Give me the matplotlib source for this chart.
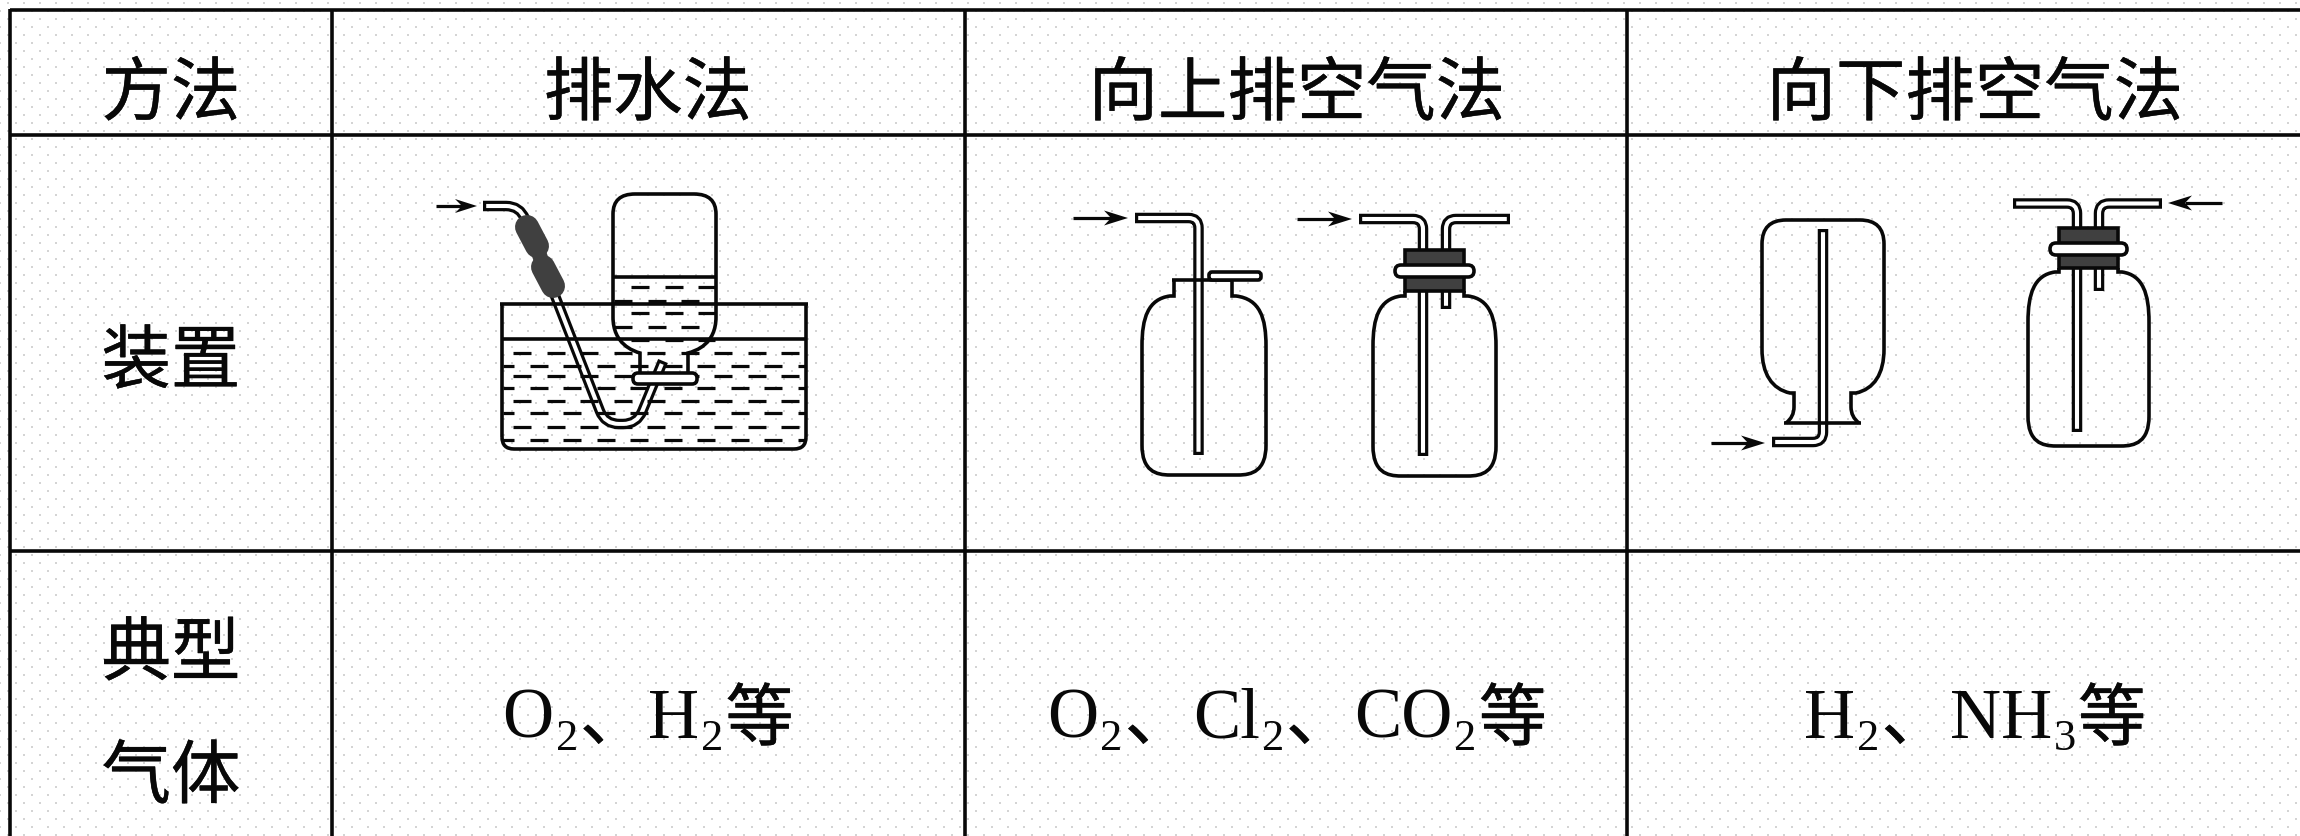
import numpy as np
import matplotlib
matplotlib.use('Agg')
import matplotlib.pyplot as plt
from matplotlib.path import Path
from matplotlib.patches import PathPatch, Rectangle, FancyBboxPatch
import matplotlib.patheffects as pe

W, H = 2300, 837
INK = '#080808'
DARK = '#404040'
CJK = ['Noto Sans CJK SC', 'DejaVu Sans']
SERIF = ['Liberation Serif', 'DejaVu Serif']
LW = 3.6

# table content
methods = ['方法', '排水法', '向上排空气法', '向下排空气法']
row_labels = ['装置']
gas_row = ['典型', '气体']
# gases: (text, font kind) runs, kind s = subscript, c = chinese, n = normal
gases = [
    [('O', 'n'), ('2', 's'), ('、', 'c'), ('H', 'n'), ('2', 's'), ('等', 'c')],
    [('O', 'n'), ('2', 's'), ('、', 'c'), ('Cl', 'n'), ('2', 's'), ('、', 'c'), ('CO', 'n'), ('2', 's'), ('等', 'c')],
    [('H', 'n'), ('2', 's'), ('、', 'c'), ('NH', 'n'), ('3', 's'), ('等', 'c')],
]

col_lines = [10, 332, 965, 1627]
row_lines = [11, 135.5, 552]
col_centers = [171, 648, 1297, 1975]
gas_centers = [648, 1297, 1975]

fig = plt.figure(figsize=(W / 100, H / 100), dpi=100)
ax = fig.add_axes([0, 0, 1, 1])
ax.set_xlim(0, W)
ax.set_ylim(H, 0)
ax.axis('off')


def px(n):
    return n * 0.72


# faint dotted background, staggered lattice
gx, gy = np.meshgrid(np.arange(0, W + 16, 16), np.arange(0, H + 16, 16))
ax.scatter(gx.ravel() + 8, gy.ravel() + 4, s=2.2, marker='s', c='#d4d4d4', linewidths=0, zorder=0)
ax.scatter(gx.ravel(), gy.ravel() + 12, s=2.2, marker='s', c='#d4d4d4', linewidths=0, zorder=0)


def line(xs, ys, lw=LW, z=3, color=INK):
    ax.plot(xs, ys, color=color, lw=px(lw), zorder=z, solid_capstyle='butt')


def tube(points, z=2, outer=10.5, wall=3.2, r=10):
    # points are corners of the tube, corners get rounded with a quadratic bend
    verts = [points[0]]
    codes = [Path.MOVETO]
    for i in range(1, len(points) - 1):
        p = np.array(points[i], float)
        a = np.array(points[i - 1], float)
        b = np.array(points[i + 1], float)
        p0 = p + (a - p) / np.linalg.norm(a - p) * r
        p1 = p + (b - p) / np.linalg.norm(b - p) * r
        verts += [tuple(p0), tuple(p), tuple(p1)]
        codes += [Path.LINETO, Path.CURVE3, Path.CURVE3]
    verts.append(points[-1])
    codes.append(Path.LINETO)
    ax.add_patch(PathPatch(Path(verts, codes), fc='none', ec=INK, lw=px(outer), capstyle='butt', joinstyle='round', zorder=z))
    v = np.array(verts, float)
    d0 = v[1] - v[0]
    d1 = v[-2] - v[-1]
    v[0] += d0 / np.linalg.norm(d0) * wall
    v[-1] += d1 / np.linalg.norm(d1) * wall
    ax.add_patch(PathPatch(Path(v, codes), fc='none', ec='white', lw=px(outer - 2 * wall), capstyle='butt', joinstyle='round', zorder=z + 0.1))


def arrow(x0, x1, y, head=24, half=7.5, notch=17):
    s = 1 if x1 > x0 else -1
    line([x0, x1 - s * notch], [y, y], lw=3.2, z=6)
    ax.fill([x1, x1 - s * head, x1 - s * notch, x1 - s * head], [y, y - half, y, y + half], color=INK, lw=0, zorder=6)


def bottle(x0, x1, ytop, ybot, nx0, nx1, ntop, z=5):
    # upright jar outline starting from neck
    v = [(nx0, ntop), (nx0, ytop), (nx0 - 4, ytop), (x0 + 6, ytop + 3), (x0, ytop + 22), (x0, ytop + 50),
         (x0, ybot - 30), (x0, ybot - 4), (x0 + 14, ybot), (x0 + 28, ybot),
         (x1 - 28, ybot), (x1 - 14, ybot), (x1, ybot - 4), (x1, ybot - 30),
         (x1, ytop + 50), (x1, ytop + 22), (x1 - 6, ytop + 3), (nx1 + 4, ytop), (nx1, ytop), (nx1, ntop)]
    c = [Path.MOVETO, Path.LINETO, Path.LINETO, Path.CURVE4, Path.CURVE4, Path.CURVE4,
         Path.LINETO, Path.CURVE4, Path.CURVE4, Path.CURVE4,
         Path.LINETO, Path.CURVE4, Path.CURVE4, Path.CURVE4,
         Path.LINETO, Path.CURVE4, Path.CURVE4, Path.CURVE4, Path.LINETO, Path.LINETO]
    ax.add_patch(PathPatch(Path(v, c), fc='none', ec=INK, lw=px(LW), zorder=z))


def stopper(x0, x1, y0, y1, rx0, rx1, ry0, ry1):
    ax.add_patch(Rectangle((x0, y0), x1 - x0, y1 - y0, fc=DARK, ec=INK, lw=px(LW), zorder=4))
    ax.add_patch(FancyBboxPatch((rx0 + 5, ry0 + 5), rx1 - rx0 - 10, ry1 - ry0 - 10,
                                boxstyle='round,pad=5,rounding_size=6', fc='white', ec=INK, lw=px(LW), zorder=4.5))


heavy = [pe.withStroke(linewidth=0.3, foreground=INK)]


def label(x, y, s):
    ax.text(x, y, s, fontsize=50, family=CJK, color=INK, ha='center', va='center', zorder=7, path_effects=heavy)


def gas_text(runs, cx, base):
    # lay the pieces out left to right, subscripts sit lower
    r = fig.canvas.get_renderer()
    items = []
    total = 0
    for s, kind in runs:
        if kind == 'c':
            t = ax.text(0, base + 3, s, fontsize=49, family=CJK, color=INK, va='baseline', ha='left', zorder=7, path_effects=heavy)
            wd = 68
        elif kind == 's':
            t = ax.text(0, base + 12, s, fontsize=32, family=SERIF, color=INK, va='baseline', ha='left', zorder=7)
            wd = t.get_window_extent(r).width + 2
        else:
            t = ax.text(0, base, s, fontsize=51, family=SERIF, color=INK, va='baseline', ha='left', zorder=7)
            wd = t.get_window_extent(r).width + 2
        items.append((t, total))
        total += wd
    for t, off in items:
        t.set_x(cx - total / 2 + off)


# table grid
for x in col_lines:
    line([x, x], [10, H], lw=3.6, z=1)
for y in row_lines:
    line([10, W], [y, y], lw=3.6, z=1)

# header row and left column
for name, cx in zip(methods, col_centers):
    label(cx, 96, name)
label(171, 364, row_labels[0])
label(171, 656, gas_row[0])
label(171, 779, gas_row[1])

for runs, cx in zip(gases, gas_centers):
    gas_text(runs, cx, 738)

# water collection
arrow(436, 477, 207, head=22, half=7, notch=15)
tube([(483, 207), (520, 207), (605, 425), (637, 425), (663, 362)], z=2, r=14)
for seg, w in (([(527, 228), (537, 247)], 24), ([(543, 268), (553, 287)], 24), ([(532, 235), (548, 280)], 15)):
    ax.plot(*zip(*seg), color=DARK, lw=px(w), solid_capstyle='round', zorder=4)
line([502, 502], [305, 438], z=5)
line([806, 806], [305, 438], z=5)
line([500, 808], [305, 305], z=5)
line([502, 806], [340, 340], z=5)
ax.add_patch(PathPatch(Path([(502, 438), (502, 450), (514, 450), (794, 450), (806, 450), (806, 438)],
                            [Path.MOVETO, Path.CURVE3, Path.CURVE3, Path.LINETO, Path.CURVE3, Path.CURVE3]),
                       fc='none', ec=INK, lw=px(LW), zorder=5))
inv = [(640, 374), (640, 354), (633, 352), (613, 345), (613, 318), (613, 310), (613, 215), (613, 195), (635, 195),
       (694, 195), (716, 195), (716, 215), (716, 318), (716, 345), (696, 352), (688, 354), (688, 374)]
inv_c = [Path.MOVETO, Path.LINETO, Path.CURVE4, Path.CURVE4, Path.CURVE4, Path.LINETO, Path.LINETO, Path.CURVE3, Path.CURVE3,
         Path.LINETO, Path.CURVE3, Path.CURVE3, Path.LINETO, Path.CURVE4, Path.CURVE4, Path.CURVE4, Path.LINETO]
ax.add_patch(PathPatch(Path(inv, inv_c), fc='none', ec=INK, lw=px(LW), zorder=5))
line([613, 716], [278, 278], z=5)
ax.add_patch(FancyBboxPatch((638, 379), 54, 1, boxstyle='round,pad=5,rounding_size=5', fc='white', ec=INK, lw=px(LW), zorder=5))
# surface dashes, two alternating rows
trough_rows = [354, 367, 377, 389, 402, 414, 428, 441]
for i, y in enumerate(trough_rows):
    start = 513 if i % 2 == 0 else 496
    for x in np.arange(start, 800, 33.5):
        line([max(x, 503), min(x + 18, 805)], [y, y], lw=3.2, z=3)
bottle_rows = [288, 302, 314, 328, 341]
for i, y in enumerate(bottle_rows):
    start = 631 if i % 2 == 0 else 614
    for x in np.arange(start, 716, 33.5):
        line([max(x, 614), min(x + 18, 715)], [y, y], lw=3.2, z=3)

# upward displacement, two jars
arrow(1073, 1128, 219)
tube([(1135, 219), (1198.5, 219), (1198.5, 456)], z=2)
bottle(1142, 1266, 297, 476, 1174, 1232, 281, z=5)
line([1172, 1232], [281, 281], z=5)
ax.add_patch(FancyBboxPatch((1211, 275), 48, 4, boxstyle='round,pad=2,rounding_size=3', fc='white', ec=INK, lw=px(LW), zorder=5))

arrow(1297, 1352, 220)
tube([(1359, 220), (1423, 220), (1423, 457)], z=2)
tube([(1510, 220), (1446, 220), (1446, 310)], z=2)
stopper(1405, 1464, 251, 292, 1395, 1474, 266, 278)
bottle(1373, 1496, 297, 477, 1405, 1464, 292, z=5)

# downward displacement
arrow(1711, 1765, 444)
tube([(1772, 443), (1823, 443), (1823, 230)], z=2)
line([1784, 1861], [424, 424], z=5)
inv3 = [(1786, 424), (1794, 418), (1794, 408), (1794, 394), (1790, 394), (1772, 390), (1762, 375), (1762, 350),
        (1762, 245), (1762, 221), (1786, 221), (1860, 221), (1884, 221), (1884, 245),
        (1884, 350), (1884, 375), (1874, 390), (1856, 394), (1851, 394), (1851, 408), (1851, 418), (1859, 424)]
inv3_c = [Path.MOVETO, Path.CURVE3, Path.CURVE3, Path.LINETO, Path.LINETO, Path.CURVE4, Path.CURVE4, Path.CURVE4,
          Path.LINETO, Path.CURVE3, Path.CURVE3, Path.LINETO, Path.CURVE3, Path.CURVE3,
          Path.LINETO, Path.CURVE4, Path.CURVE4, Path.CURVE4, Path.LINETO, Path.LINETO, Path.CURVE3, Path.CURVE3]
ax.add_patch(PathPatch(Path(inv3, inv3_c), fc='none', ec=INK, lw=px(LW), zorder=5))

arrow(2222, 2168, 204)
tube([(2013, 204.5), (2077, 204.5), (2077, 433)], z=2)
tube([(2162, 204.5), (2099, 204.5), (2099, 292)], z=2)
stopper(2059, 2118, 229, 269, 2050, 2127, 244, 256)
bottle(2028, 2149, 273, 447, 2059, 2118, 269, z=5)

fig.savefig('out.png', dpi=100)
